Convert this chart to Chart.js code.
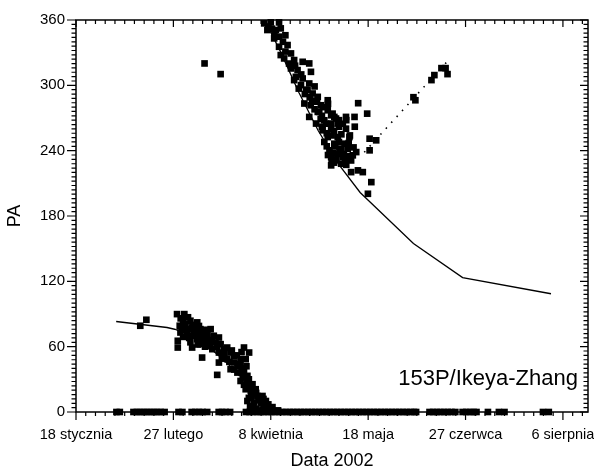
<!DOCTYPE html>
<html>
<head>
<meta charset="utf-8">
<script src="https://cdn.jsdelivr.net/npm/chart.js@4.4.1/dist/chart.umd.min.js"></script>
<style>
  body { margin: 0; background: #fff; }
</style>
</head>
<body>
<canvas id="pa-chart" width="594" height="468"></canvas>
<script>
// x = day of year 2002 (1 = 1 stycznia), y = PA in degrees
const tickDays = [18, 58, 98, 138, 178, 218];
const tickLabels = ['18 stycznia', '27 lutego', '8 kwietnia', '18 maja', '27 czerwca', '6 sierpnia'];

// observations with PA = 0
const zeroDays = [34.6, 36.0, 41.6, 43.0, 44.4, 45.8, 47.2, 48.6, 50.0, 51.4, 52.8, 54.4,
  60.1, 61.7, 65.5, 67.0, 68.5, 70.0, 71.9, 76.6, 78.0, 79.5, 81.3,
  87.8, 89.3, 90.8, 92.3, 93.8, 95.3, 96.8, 98.3, 99.8, 101.3, 102.8, 104.3, 105.8,
  107.3, 108.8, 110.3, 111.8, 113.3, 114.8, 116.3, 117.8, 119.3, 120.8, 122.3, 123.8,
  125.3, 126.8, 128.3, 129.8, 131.3, 132.8, 134.3, 135.8, 137.3, 138.8, 140.3, 141.8,
  143.3, 144.8, 146.3, 147.8, 149.3, 150.8, 152.3, 153.8, 155.3, 156.8, 157.7,
  163.2, 164.7, 166.2, 167.7, 169.2, 170.7, 172.2, 173.8,
  176.8, 178.3, 179.8, 181.3, 182.5, 187.2, 191.7, 194.0, 209.8, 212.2];

// measured PA, lower branch
const lowDays = [44.4, 46.9, 59.5, 62.5, 65.0, 60.6, 63.0, 65.7, 67.8, 69.1, 60.9, 63.6, 66.4, 70.5,
  73.3, 67.8, 71.9, 74.6, 76.7, 59.8, 59.8, 65.7, 69.1, 72.6, 75.3, 77.4, 69.8, 74.0, 76.7,
  78.8, 80.1, 81.5, 87.0, 89.1, 76.7, 80.1, 82.9, 85.6, 87.7, 81.5, 84.3, 76.0, 84.3, 87.0,
  88.4, 85.6, 88.4, 90.5, 87.7, 89.8, 91.8, 92.5, 94.6, 88.4, 91.1, 93.9, 96.0, 91.8, 93.9,
  96.6, 98.7, 101.0, 62.0, 61.5, 64.5, 68.0, 71.0, 73.0, 78.0, 83.0, 86.0, 86.5, 89.0, 90.0,
  89.5, 95.0, 61.0, 64.0, 66.0, 68.5, 62.0, 64.0, 67.0, 71.0, 72.0, 69.5, 66.0, 62.0, 65.0,
  68.0, 71.0, 74.0, 76.0, 79.0, 82.0, 84.0, 86.0, 78.0, 81.0, 85.5, 83.0, 88.0, 86.0, 89.0,
  87.0, 90.0, 92.0, 89.0, 93.0, 95.0, 90.5, 97.0];
const lowPA = [79.2, 84.7, 89.9, 89.9, 83.8, 79.2, 80.7, 77.7, 82.3, 76.1, 73.0, 71.5, 73.0, 73.0,
  76.1, 66.9, 68.4, 70.0, 68.4, 65.4, 59.2, 59.2, 62.3, 63.8, 63.8, 62.3, 50.0, 57.7, 54.6,
  57.7, 59.2, 54.6, 59.2, 54.6, 45.4, 48.5, 51.6, 48.5, 48.5, 39.3, 42.4, 34.1, 36.2, 37.8,
  33.2, 28.5, 27.0, 25.5, 20.9, 19.3, 20.9, 14.7, 14.7, 10.1, 8.6, 8.6, 10.1, 3.0, 1.5,
  3.0, 4.5, 1.5, 85.5, 76.0, 68.0, 70.5, 65.0, 60.5, 51.0, 45.5, 40.0, 32.0, 23.0, 14.0,
  5.0, 5.5, 86.0, 87.0, 80.0, 79.0, 82.0, 76.0, 75.0, 75.5, 71.0, 68.0, 70.0, 69.0, 64.0,
  62.0, 60.0, 66.0, 60.0, 54.0, 56.5, 52.0, 55.0, 49.0, 46.0, 44.0, 39.0, 42.0, 36.0, 30.0,
  25.0, 22.0, 17.5, 13.0, 11.0, 12.0, 5.0, 7.0];

// measured PA, upper branch (incl. outliers and the points along the dotted line)
const highDays = [95.3, 98.0, 101.4, 96.6, 100.1, 102.1, 99.4, 101.4, 101.4, 104.9, 102.1, 106.3,
  103.5, 107.6, 111.1, 113.8, 106.3, 109.0, 114.5, 108.3, 111.1, 113.8, 107.6, 110.4, 113.1,
  115.2, 117.3, 121.4, 111.8, 114.4, 118.6, 121.4, 117.3, 122.8, 120.0, 124.8, 125.5, 122.8,
  116.6, 113.8, 117.9, 123.4, 124.1, 128.9, 132.4, 137.6, 120.7, 127.6, 119.3, 122.8, 128.9,
  121.4, 125.5, 130.3, 120.0, 124.1, 128.3, 138.6, 141.3, 122.1, 126.2, 129.6, 133.1, 138.6,
  122.8, 127.6, 131.7, 122.8, 126.9, 131.0, 133.8, 135.8, 139.3, 137.9, 133.9,
  97.0, 99.5, 103.0, 104.0, 105.5, 108.0, 110.5, 109.5, 112.0, 115.0, 116.0, 119.0, 119.0,
  121.0, 123.0, 124.0, 126.0, 121.0, 123.5, 125.0, 128.0, 130.0, 124.0, 129.0, 131.0, 127.0,
  126.0, 118.5, 112.5, 116.0, 104.0, 98.5,
  121.5, 124.5, 127.0, 129.5, 132.0, 125.5, 123.0, 128.5, 130.5, 126.0, 132.5, 129.0,
  114.0, 117.0, 119.5, 121.5,
  156.6, 157.4, 164.0, 165.2, 168.1, 169.8, 170.6, 70.8, 77.4];
const highPA = [356.9, 357.8, 357.8, 350.8, 350.8, 352.3, 343.1, 344.7, 335.4, 337.0, 327.8, 329.3,
  324.7, 323.2, 321.6, 320.1, 315.5, 314.0, 312.4, 307.8, 306.3, 301.7, 304.8, 300.2, 295.5,
  292.5, 289.4, 286.3, 283.3, 281.7, 281.7, 277.1, 275.6, 272.5, 267.9, 269.5, 264.9, 264.9,
  264.9, 271.0, 275.6, 274.0, 271.0, 271.0, 271.0, 274.0, 264.8, 264.8, 258.7, 260.2, 260.2,
  252.5, 252.5, 252.5, 248.0, 246.4, 246.4, 251.0, 249.5, 240.3, 241.8, 241.8, 238.7, 240.3,
  234.1, 234.1, 235.7, 226.5, 228.0, 220.3, 221.9, 220.3, 211.1, 200.4, 283.6,
  354.0, 347.0, 340.0, 331.0, 320.0, 318.0, 310.0, 297.0, 292.0, 286.0, 278.0, 272.0, 262.0,
  256.0, 254.0, 258.0, 248.0, 244.0, 238.0, 232.0, 237.0, 247.0, 229.0, 227.0, 231.0, 255.0,
  268.0, 269.0, 296.0, 299.0, 346.0, 352.0,
  236.0, 244.0, 241.0, 235.0, 243.0, 237.0, 231.0, 231.0, 254.0, 262.0, 262.0, 268.0,
  289.0, 285.0, 280.0, 283.0,
  289.1, 286.3, 304.8, 309.4, 315.8, 315.8, 310.3, 320.1, 310.3];

// model curve (solid), wraps from 0 to 360
const curveLowDays = [34.5, 55.4, 58.5, 64.0, 70.0, 76.0, 81.0, 86.0, 90.5, 94.7];
const curveLowPA = [83.1, 77.6, 76.0, 71.5, 64.0, 53.0, 43.0, 32.0, 18.0, 0];
const curveHighDays = [95.5, 102.1, 109.5, 117.4, 125.6, 134.7, 156.6, 176.8, 213.1];
const curveHighPA = [360, 330.5, 293.7, 258.7, 228.3, 201.6, 154.7, 123.4, 108.6];

// dotted line
const dotDays = [136.4, 171.0];
const dotPA = [238.5, 323.2];

const FONT = "'Liberation Sans', Arial, sans-serif";

function toPoints(xs, ys) {
    return xs.map((x, i) => ({ x: x, y: ys[i] }));
}

// frame + minor/major ticks like the original plot
const frameTicks = {
    id: 'frameTicks',
    afterDatasetsDraw(chart) {
        const ctx = chart.ctx;
        const { left, right, top, bottom } = chart.chartArea;
        const xs = chart.scales.x;
        const ys = chart.scales.y;
        ctx.save();
        ctx.strokeStyle = '#000';
        ctx.lineWidth = 1.5;
        ctx.strokeRect(left, top, right - left, bottom - top);

        ctx.lineWidth = 1.2;
        ctx.beginPath();
        for (let d = 18; d <= xs.max; d += 4) {
            const px = xs.getPixelForValue(d);
            const major = (d - 18) % 40 === 0;
            ctx.moveTo(px, bottom);
            ctx.lineTo(px, bottom + (major ? 8 : 4));
            ctx.moveTo(px, top);
            ctx.lineTo(px, top + (major ? 7 : 4));
        }
        for (let v = 0; v <= 360; v += 4) {
            const py = ys.getPixelForValue(v);
            const major = v % 60 === 0;
            ctx.moveTo(left, py);
            ctx.lineTo(left - (major ? 9 : 4.5), py);
            ctx.moveTo(right, py);
            ctx.lineTo(right - (major ? 8 : 4.5), py);
        }
        ctx.stroke();

        ctx.fillStyle = '#000';
        ctx.font = '22px ' + FONT;
        ctx.textAlign = 'right';
        ctx.textBaseline = 'alphabetic';
        ctx.fillText('153P/Ikeya-Zhang', right - 10, 385);
        ctx.restore();
    }
};

const squares = { pointStyle: 'rect', pointRadius: 4.7, backgroundColor: '#000', borderWidth: 0, clip: false };

const ctx = document.getElementById('pa-chart').getContext('2d');
new Chart(ctx, {
    type: 'scatter',
    data: {
        datasets: [
            Object.assign({ data: toPoints(zeroDays, zeroDays.map(() => 0)) }, squares),
            Object.assign({ data: toPoints(lowDays, lowPA) }, squares),
            Object.assign({ data: toPoints(highDays, highPA) }, squares),
            {
                data: toPoints(curveLowDays, curveLowPA),
                showLine: true, pointRadius: 0, borderColor: '#000', borderWidth: 1.3
            },
            {
                data: toPoints(curveHighDays, curveHighPA),
                showLine: true, pointRadius: 0, borderColor: '#000', borderWidth: 1.3
            },
            {
                data: toPoints(dotDays, dotPA),
                showLine: true, pointRadius: 0, borderColor: '#000', borderWidth: 1.6,
                borderDash: [1.5, 6.5]
            }
        ]
    },
    options: {
        responsive: false,
        animation: false,
        layout: { padding: { left: 0, right: 6, top: 20, bottom: 0 } },
        plugins: {
            legend: { display: false },
            tooltip: { enabled: false }
        },
        scales: {
            x: {
                type: 'linear',
                min: 18,
                max: 228.3,
                afterBuildTicks: (scale) => {
                    scale.ticks = tickDays.map(v => ({ value: v }));
                },
                afterFit: (scale) => {
                    scale.height = 56;
                    scale.paddingLeft = 0;
                    scale.paddingRight = 0;
                },
                grid: { display: false, drawTicks: false },
                border: { display: false },
                ticks: {
                    autoSkip: false,
                    maxRotation: 0,
                    padding: 14,
                    color: '#000',
                    font: { family: FONT, size: 14.5 },
                    callback: (value) => {
                        const i = tickDays.indexOf(value);
                        return i >= 0 ? tickLabels[i] : '';
                    }
                },
                title: {
                    display: true,
                    text: 'Data 2002',
                    color: '#000',
                    font: { family: FONT, size: 18, lineHeight: 0.8 },
                    padding: 0
                }
            },
            y: {
                min: 0,
                max: 360,
                afterFit: (scale) => {
                    scale.width = 76;
                    scale.paddingTop = 0;
                    scale.paddingBottom = 0;
                },
                grid: { display: false, drawTicks: false },
                border: { display: false },
                ticks: {
                    stepSize: 60,
                    padding: 11,
                    color: '#000',
                    font: { family: FONT, size: 15 }
                },
                title: {
                    display: true,
                    text: 'PA',
                    color: '#000',
                    font: { family: FONT, size: 18, lineHeight: 1 },
                    padding: { top: 6, bottom: 0 }
                }
            }
        }
    },
    plugins: [frameTicks]
});
</script>
</body>
</html>
